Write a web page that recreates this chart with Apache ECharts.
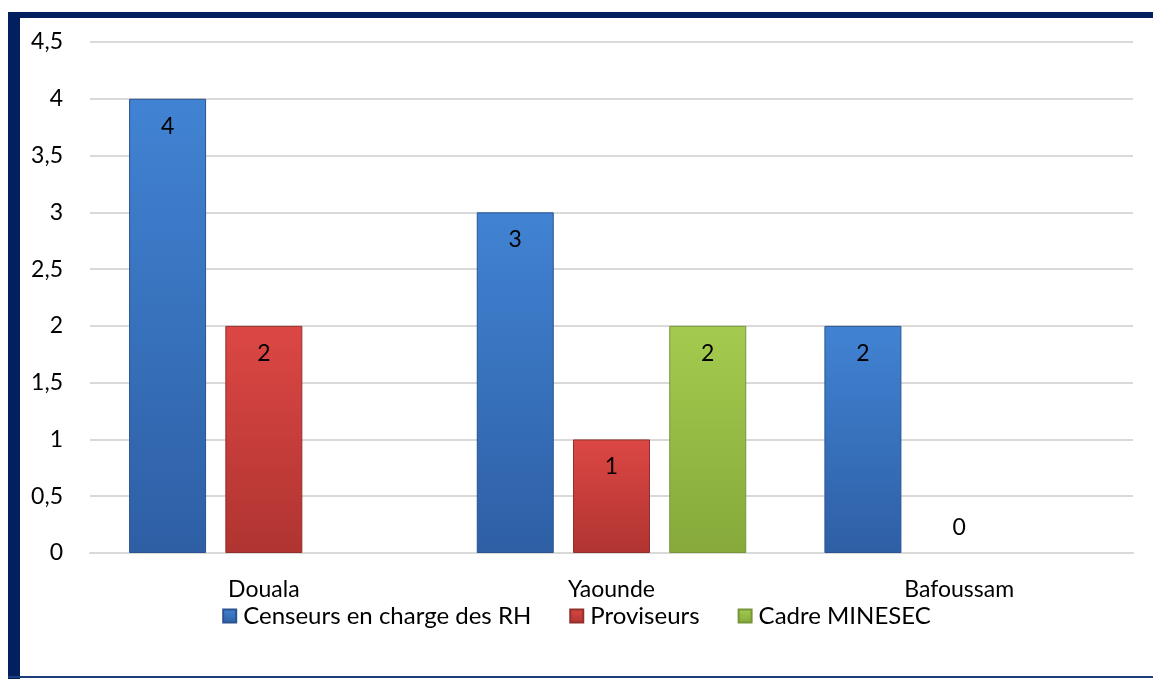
<!DOCTYPE html>
<html>
<head>
<meta charset="utf-8">
<script src="https://cdn.jsdelivr.net/npm/echarts@6/dist/echarts.min.js"></script>
<style>
html,body{margin:0;padding:0;background:#fff;}
#wrap{position:relative;width:1153px;height:679px;overflow:hidden;background:#fff;}
#chart{position:absolute;left:0;top:0;width:1153px;height:679px;}
.bl{position:absolute;left:8px;top:12px;width:12px;height:667px;background:#02205e;}
.bt{position:absolute;left:8px;top:12px;width:1145px;height:6px;background:#02205e;}
.bb{position:absolute;left:8px;top:676px;width:1145px;height:2px;background:#1c3f7c;}
</style>
</head>
<body>
<div id="wrap">
<div id="chart"></div>
<div class="bl"></div><div class="bt"></div><div class="bb"></div>
</div>
<script>
const categories = ['Douala', 'Yaounde', 'Bafoussam'];
const censeurs = [4, 3, 2];
const proviseurs = [2, 1, 0];
const cadre = ['-', 2, '-'];
const seriesNames = ['Censeurs en charge des RH', 'Proviseurs', 'Cadre MINESEC'];

const FONT = 'Lato';
const FS = 23;
function grad(top, bottom) {
  return new echarts.graphic.LinearGradient(0, 0, 0, 1, [
    {offset: 0, color: top}, {offset: 1, color: bottom}
  ]);
}
const styles = [
  {fill: grad('#4183d3', '#2e5fa5'), border: '#2a5490'},
  {fill: grad('#dc4744', '#b03431'), border: '#92302d'},
  {fill: grad('#a4cb4f', '#86a93a'), border: '#76963a'}
];
const label = {
  show: true, position: 'insideTop', distance: 16,
  color: '#000', fontFamily: FONT, fontSize: FS
};
function mkData(arr) {
  return arr.map(v => {
    if (v === 0) return {value: v, label: {position: 'top', distance: 14},
      itemStyle: {borderWidth: 0, color: 'rgba(0,0,0,0)'}};
    return v;
  });
}
const chart = echarts.init(document.getElementById('chart'));
chart.setOption({
  animation: false,
  textStyle: {fontFamily: FONT},
  grid: {left: 90, right: 20, top: 42, bottom: 126},
  legend: {
    data: seriesNames, top: 599, left: 'center',
    itemWidth: 13, itemHeight: 13, itemGap: 38,
    icon: 'rect',
    textStyle: {fontFamily: FONT, fontSize: 24, color: '#000', padding: [0, 0, 0, 2]}
  },
  xAxis: {
    type: 'category', data: categories,
    axisLine: {lineStyle: {color: '#d9d9d9', width: 2}},
    axisTick: {show: false},
    axisLabel: {color: '#000', fontFamily: FONT, fontSize: FS, margin: 25}
  },
  yAxis: {
    type: 'value', min: 0, max: 4.5, interval: 0.5,
    axisLine: {show: false}, axisTick: {show: false},
    splitLine: {lineStyle: {color: '#d9d9d9', width: 2}},
    axisLabel: {
      color: '#000', fontFamily: FONT, fontSize: FS, margin: 27,
      formatter: v => String(v).replace('.', ',')
    }
  },
  series: [
    {name: seriesNames[0], type: 'bar', data: mkData(censeurs), barWidth: 77, barGap: '25%',
     itemStyle: {color: styles[0].fill, borderColor: styles[0].border, borderWidth: 1}, label},
    {name: seriesNames[1], type: 'bar', data: mkData(proviseurs), barWidth: 77, barGap: '25%',
     itemStyle: {color: styles[1].fill, borderColor: styles[1].border, borderWidth: 1}, label},
    {name: seriesNames[2], type: 'bar', data: mkData(cadre), barWidth: 77, barGap: '25%',
     itemStyle: {color: styles[2].fill, borderColor: styles[2].border, borderWidth: 1}, label}
  ]
});
</script>
</body>
</html>
